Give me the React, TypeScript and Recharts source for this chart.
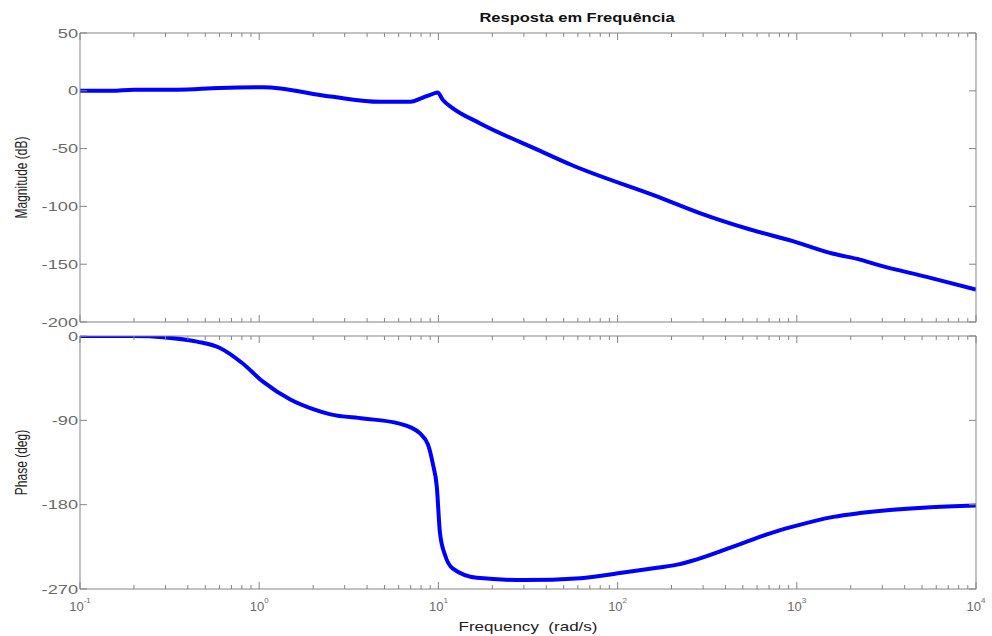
import { Line, LineChart, XAxis, YAxis } from "recharts";

// magnitude curve
const magFreq = [0.1, 0.15, 0.2, 0.35, 0.6, 1.05, 2.5, 4.7, 7, 8, 9, 9.9, 10.6, 12, 17, 37, 55, 170, 290, 550, 950, 1600, 2250, 2900, 5300, 10000];
const magDb = [0, 0, 1, 1, 2.5, 3, -5, -9.5, -9.5, -6.5, -3.5, -1.5, -8, -15, -28, -52, -64, -92, -106, -120, -130, -141, -146, -151, -161, -172];

// phase curve
const phaseFreq = [0.1, 0.2, 0.3, 0.45, 0.6, 0.8, 1.05, 1.5, 2, 2.5, 3.8, 5.9, 7, 7.9, 8.75, 9.3, 9.8, 10.2, 10.9, 12, 16.4, 30, 62, 103, 170, 215, 500, 710, 950, 1600, 2250, 5300, 10000];
const phaseDeg = [0, 0, -1.5, -6, -12.5, -28.5, -48.7, -68, -78, -83.6, -88, -93, -97.5, -104, -116, -136, -161, -210, -234, -248, -258, -260.5, -258.5, -253, -247, -244, -221, -210.6, -203.5, -193, -189, -183, -181];

const decades = [0.1, 1, 10, 100, 1000, 10000];
const magTicks = [-200, -150, -100, -50, 0, 50];
const phaseTicks = [-270, -180, -90, 0];

const freqTicks = decades
  .slice(0, -1)
  .flatMap((d) => [1, 2, 3, 4, 5, 6, 7, 8, 9].map((m) => d * m))
  .concat(10000);

const magData = magFreq.map((f, i) => ({ f, v: magDb[i] }));
const phaseData = phaseFreq.map((f, i) => ({ f, v: phaseDeg[i] }));

const AXIS = "#848484";
const TICK_TEXT = "#6a6a6a";
const FONT = "'Liberation Sans', Arial, sans-serif";

function BottomTick({ x, y, payload, labels }: any) {
  const v = payload.value;
  const major = decades.includes(v);
  const exp = Math.round(Math.log10(v));
  return (
    <g>
      <line x1={x} y1={y} x2={x} y2={y - (major ? 7 : 4)} stroke={AXIS} />
      {labels && major && (
        <text x={x} y={y + 22} textAnchor="middle" fontSize={13} fill={TICK_TEXT}>
          10
          <tspan dy={-8} fontSize={8}>
            {exp}
          </tspan>
        </text>
      )}
    </g>
  );
}

function TopTick({ x, y, payload }: any) {
  const major = decades.includes(payload.value);
  return <line x1={x} y1={y} x2={x} y2={y + (major ? 7 : 4)} stroke={AXIS} />;
}

function LeftTick({ x, y, payload }: any) {
  return (
    <g>
      <line x1={x} y1={y} x2={x + 7} y2={y} stroke={AXIS} />
      <text
        transform={`translate(${x - 2},${y}) scale(1.4,1)`}
        textAnchor="end"
        dominantBaseline="central"
        fontSize={13}
        fill={TICK_TEXT}
      >
        {payload.value}
      </text>
    </g>
  );
}

function RightTick({ x, y }: any) {
  return <line x1={x} y1={y} x2={x - 7} y2={y} stroke={AXIS} />;
}

function yTitle(text: string) {
  return ({ viewBox }: any) => (
    <text
      transform={`translate(${viewBox.x + 21},${viewBox.y + viewBox.height / 2}) scale(1.4,1) rotate(-90)`}
      textAnchor="middle"
      dominantBaseline="central"
      fontSize={12}
      fill="#222"
    >
      {text}
    </text>
  );
}

function xAxes(labels: boolean, bottomHeight: number, title?: boolean) {
  return [
    <XAxis
      key="b"
      xAxisId="b"
      dataKey="f"
      type="number"
      scale="log"
      domain={[0.1, 10000]}
      allowDataOverflow
      ticks={freqTicks}
      interval={0}
      tickSize={0}
      tickMargin={0}
      tickLine={false}
      stroke={AXIS}
      height={bottomHeight}
      tick={(p: any) => <BottomTick {...p} labels={labels} />}
      label={
        labels
          ? {
              content: ({ viewBox }: any) => (
                <text
                  transform={`translate(${viewBox.x + viewBox.width / 2},${viewBox.y + 38}) scale(1.42,1)`}
                  textAnchor="middle"
                  dominantBaseline="central"
                  fontSize={12}
                  fill="#222"
                  style={{ whiteSpace: "pre" }}
                >
                  Frequency  (rad/s)
                </text>
              )
            }
          : undefined
      }
    />,
    <XAxis
      key="t"
      xAxisId="t"
      orientation="top"
      dataKey="f"
      type="number"
      scale="log"
      domain={[0.1, 10000]}
      allowDataOverflow
      ticks={freqTicks}
      interval={0}
      tickSize={0}
      tickMargin={0}
      tickLine={false}
      stroke={AXIS}
      height={1}
      tick={(p: any) => <TopTick {...p} />}
      label={
        title
          ? {
              content: ({ viewBox }: any) => (
                <text
                  transform={`translate(${viewBox.x + viewBox.width / 2 + 49},${viewBox.y - 14}) scale(1.27,1)`}
                  textAnchor="middle"
                  dominantBaseline="central"
                  fontSize={13}
                  fontWeight="bold"
                  fill="#111"
                >
                  Resposta em Frequência
                </text>
              )
            }
          : undefined
      }
    />
  ];
}

function yAxes(domain: number[], ticks: number[], title: string) {
  return [
    <YAxis
      key="l"
      yAxisId="l"
      type="number"
      domain={domain}
      allowDataOverflow
      ticks={ticks}
      interval={0}
      tickSize={0}
      tickMargin={0}
      tickLine={false}
      stroke={AXIS}
      width={80}
      tick={(p: any) => <LeftTick {...p} />}
      label={{ content: yTitle(title) }}
    />,
    <YAxis
      key="r"
      yAxisId="r"
      orientation="right"
      type="number"
      domain={domain}
      allowDataOverflow
      ticks={ticks}
      interval={0}
      tickSize={0}
      tickMargin={0}
      tickLine={false}
      stroke={AXIS}
      width={1}
      tick={(p: any) => <RightTick {...p} />}
    />
  ];
}

export default function App() {
  return (
    <div style={{ position: "absolute", left: 0, top: 0, width: 992, height: 636, background: "#fff", fontFamily: FONT }}>
      <div style={{ position: "absolute", left: 0, top: 0 }}>
        <LineChart width={992} height={330} data={magData} margin={{ top: 32, right: 15, bottom: 0, left: 0 }}>
          {xAxes(false, 8, true)}
          {yAxes([-200, 50], magTicks, "Magnitude (dB)")}
          <Line xAxisId="b" yAxisId="l" type="monotone" dataKey="v" stroke="#0000ff" strokeWidth={4} dot={false} isAnimationActive={false} />
        </LineChart>
      </div>
      <div style={{ position: "absolute", left: 0, top: 330 }}>
        <LineChart width={992} height={306} data={phaseData} margin={{ top: 5, right: 15, bottom: 0, left: 0 }}>
          {xAxes(true, 47)}
          {yAxes([-270, 0], phaseTicks, "Phase (deg)")}
          <Line xAxisId="b" yAxisId="l" type="monotone" dataKey="v" stroke="#0000ff" strokeWidth={4} dot={false} isAnimationActive={false} />
        </LineChart>
      </div>
    </div>
  );
}
